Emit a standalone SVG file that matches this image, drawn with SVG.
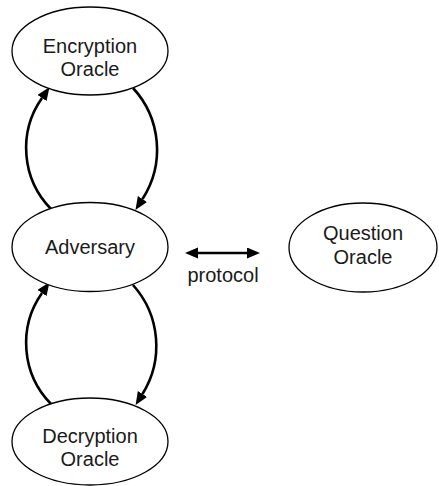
<svg xmlns="http://www.w3.org/2000/svg" width="439" height="486" viewBox="0 0 439 486">
  <style>
    .node ellipse { fill: #ffffff; stroke: #000000; stroke-width: 1.3; }
    .node text { font-family: "Liberation Sans", Arial, sans-serif; font-size: 20px; fill: #1a1a1a; text-anchor: middle; }
    .label { font-family: "Liberation Sans", Arial, sans-serif; font-size: 20px; fill: #1a1a1a; text-anchor: middle; }
    .edge { fill: none; stroke: #000000; stroke-width: 2.6; }
  </style>
  <defs>
    <marker id="head" markerUnits="userSpaceOnUse" markerWidth="14" markerHeight="12" refX="0" refY="5.5" orient="auto-start-reverse">
      <path d="M0,0 L13,5.5 L0,11 Z" fill="#000000"/>
    </marker>
  </defs>

  <rect width="439" height="486" fill="#ffffff"/>

  <!-- connectors -->
  <g id="connectors">
    <!-- Adversary -> Encryption Oracle -->
    <path class="edge" d="M51,209 A87,87 0 0 1 42,98" marker-end="url(#head)"/>
    <!-- Encryption Oracle -> Adversary -->
    <path class="edge" d="M133,88 A91,91 0 0 1 142.5,199" marker-end="url(#head)"/>
    <!-- Decryption Oracle -> Adversary -->
    <path class="edge" d="M51,404 A87,87 0 0 1 42,293" marker-end="url(#head)"/>
    <!-- Adversary -> Decryption Oracle -->
    <path class="edge" d="M133,285 A91,91 0 0 1 142.5,394" marker-end="url(#head)"/>
    <!-- Adversary <-> Question Oracle -->
    <path class="edge" d="M198,253 L247,253" marker-start="url(#head)" marker-end="url(#head)"/>
    <text class="label" x="223" y="282">protocol</text>
  </g>

  <g id="encryption-oracle" class="node">
    <ellipse cx="90" cy="51" rx="78" ry="44"/>
    <text x="90" y="53">Encryption</text>
    <text x="90" y="76">Oracle</text>
  </g>

  <g id="adversary" class="node">
    <ellipse cx="90" cy="247" rx="78" ry="44.5"/>
    <text x="90" y="254">Adversary</text>
  </g>

  <g id="decryption-oracle" class="node">
    <ellipse cx="90" cy="441.5" rx="78" ry="43.5"/>
    <text x="90" y="443">Decryption</text>
    <text x="90" y="466">Oracle</text>
  </g>

  <g id="question-oracle" class="node">
    <ellipse cx="363" cy="247.5" rx="74" ry="44.5"/>
    <text x="363" y="240">Question</text>
    <text x="363" y="264">Oracle</text>
  </g>
</svg>
